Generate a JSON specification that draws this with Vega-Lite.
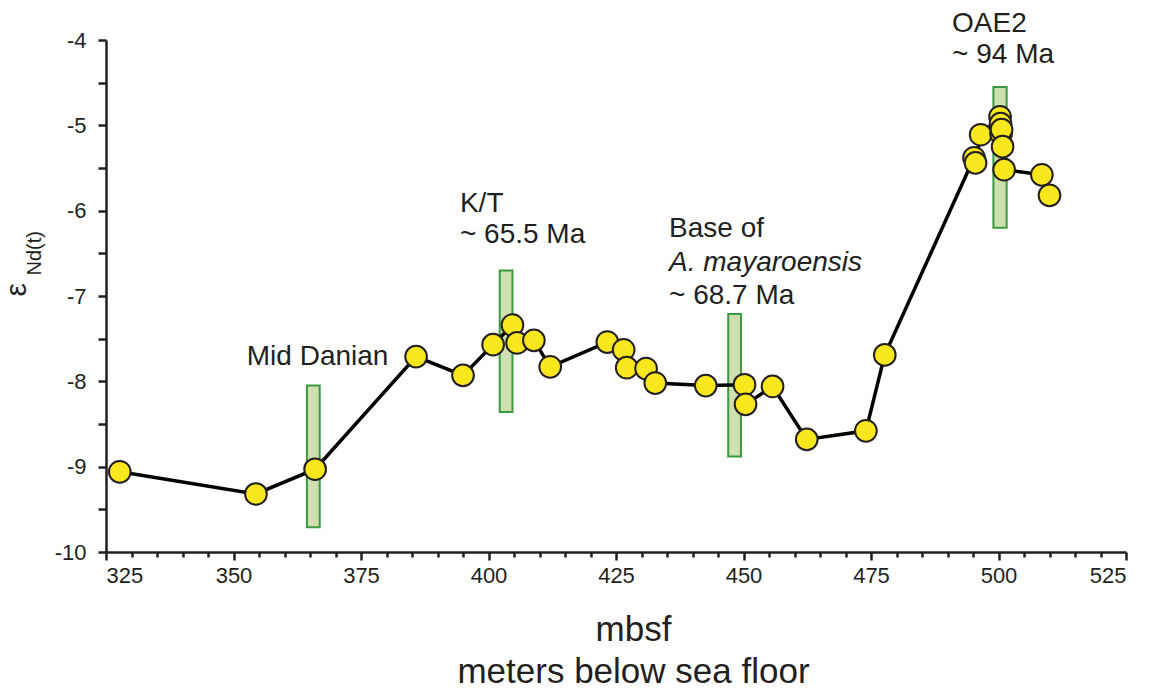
{
  "$schema": "https://vega.github.io/schema/vega-lite/v6.json",
  "width": 1020,
  "height": 512,
  "autosize": "none",
  "padding": {"left": 106, "top": 40, "right": 35, "bottom": 137},
  "background": "white",
  "config": {
    "view": {"stroke": null},
    "font": "Liberation Sans",
    "axis": {"grid": false, "domainColor": "#231f20", "tickColor": "#231f20", "domainWidth": 2.5, "tickWidth": 2.5, "labelColor": "#231f20", "titleColor": "#231f20", "labelFont": "Liberation Sans", "titleFont": "Liberation Sans", "labelFontSize": 22, "titleFontWeight": "normal"}
  },
  "datasets": {
    "pts": [
      {"depth": 327.7, "eps": -9.06},
      {"depth": 354.4, "eps": -9.32},
      {"depth": 366.0, "eps": -9.03},
      {"depth": 385.8, "eps": -7.71},
      {"depth": 395.0, "eps": -7.93},
      {"depth": 400.9, "eps": -7.57},
      {"depth": 404.7, "eps": -7.34},
      {"depth": 405.6, "eps": -7.55},
      {"depth": 408.9, "eps": -7.52},
      {"depth": 412.1, "eps": -7.83},
      {"depth": 423.3, "eps": -7.54},
      {"depth": 426.5, "eps": -7.63},
      {"depth": 427.1, "eps": -7.84},
      {"depth": 430.9, "eps": -7.85},
      {"depth": 432.7, "eps": -8.02},
      {"depth": 442.6, "eps": -8.05},
      {"depth": 450.2, "eps": -8.04},
      {"depth": 450.4, "eps": -8.27},
      {"depth": 455.7, "eps": -8.06},
      {"depth": 462.4, "eps": -8.68},
      {"depth": 474.0, "eps": -8.58},
      {"depth": 477.7, "eps": -7.69},
      {"depth": 495.2, "eps": -5.38},
      {"depth": 495.5, "eps": -5.44},
      {"depth": 496.5, "eps": -5.11},
      {"depth": 500.3, "eps": -4.90},
      {"depth": 500.4, "eps": -4.98},
      {"depth": 500.5, "eps": -5.10},
      {"depth": 500.6, "eps": -5.05},
      {"depth": 500.8, "eps": -5.25},
      {"depth": 501.1, "eps": -5.52},
      {"depth": 508.5, "eps": -5.58},
      {"depth": 510.0, "eps": -5.82}
    ],
    "bars": [
      {"x1": 364.4, "x2": 366.9, "y1": -8.05, "y2": -9.71},
      {"x1": 402.2, "x2": 404.7, "y1": -6.70, "y2": -8.36},
      {"x1": 447.0, "x2": 449.5, "y1": -7.21, "y2": -8.88},
      {"x1": 499.0, "x2": 501.6, "y1": -4.55, "y2": -6.20}
    ],
    "labels": [
      {"x": 352.6, "y": -7.71, "text": "Mid Danian"},
      {"x": 394.4, "y": -5.92, "text": "K/T"},
      {"x": 394.4, "y": -6.29, "text": "~ 65.5 Ma"},
      {"x": 435.4, "y": -6.22, "text": "Base of"},
      {"x": 435.4, "y": -7.00, "text": "~ 68.7 Ma"},
      {"x": 490.9, "y": -3.81, "text": "OAE2"},
      {"x": 490.9, "y": -4.17, "text": "~ 94 Ma"}
    ],
    "italic": [
      {"x": 435.4, "y": -6.61, "text": "A. mayaroensis"}
    ]
  },
  "resolve": {"axis": {"x": "independent", "y": "independent"}},
  "layer": [
    {
      "data": {"name": "bars"},
      "mark": {"type": "rect", "fill": "#cfdfb0", "stroke": "#3a9a3f", "strokeWidth": 2},
      "encoding": {
        "x": {"field": "x1", "type": "quantitative", "scale": {"domain": [325, 525], "nice": false, "zero": false},
              "axis": {"values": [325, 350, 375, 400, 425, 450, 475, 500, 525], "tickSize": 8, "labelPadding": 5, "labelExpr": "'' + datum.value",
                       "title": ["mbsf", "meters below sea floor"], "titleFontSize": 35, "titlePadding": 26, "titleLineHeight": 42, "titleX": 527}},
        "x2": {"field": "x2"},
        "y": {"field": "y1", "type": "quantitative", "scale": {"domain": [-10, -4], "nice": false, "zero": false},
              "axis": {"values": [-10, -9, -8, -7, -6, -5, -4], "tickSize": 8, "labelPadding": 12, "labelExpr": "'' + datum.value",
                       "title": "ε", "titleFontSize": 30, "titleAngle": -90, "titleAlign": "left", "titleBaseline": "alphabetic", "titleX": -81, "titleY": 256}},
        "y2": {"field": "y2"}
      }
    },
    {
      "data": {"name": "pts"},
      "mark": {"type": "line", "color": "#000000", "strokeWidth": 3.5},
      "encoding": {
        "x": {"field": "depth", "type": "quantitative",
              "axis": {"orient": "bottom", "values": [330, 335, 340, 345, 355, 360, 365, 370, 380, 385, 390, 395, 405, 410, 415, 420, 430, 435, 440, 445, 455, 460, 465, 470, 480, 485, 490, 495, 505, 510, 515, 520],
                       "labels": false, "domain": false, "tickSize": 5, "title": null}},
        "y": {"field": "eps", "type": "quantitative",
              "axis": {"orient": "left", "values": [-9.5, -8.5, -7.5, -6.5, -5.5, -4.5], "labels": false, "domain": false, "tickSize": 8,
                       "title": "Nd(t)", "titleFontSize": 20, "titleAngle": -90, "titleAlign": "left", "titleBaseline": "alphabetic", "titleX": -66, "titleY": 235}}
      }
    },
    {
      "data": {"name": "pts"},
      "mark": {"type": "point", "shape": "circle", "filled": true, "fill": "#f8e71c", "stroke": "#231f20", "strokeWidth": 2, "opacity": 1, "size": 470},
      "encoding": {
        "x": {"field": "depth", "type": "quantitative", "axis": null},
        "y": {"field": "eps", "type": "quantitative", "axis": null}
      }
    },
    {
      "data": {"name": "labels"},
      "mark": {"type": "text", "align": "left", "baseline": "middle", "fontSize": 28, "color": "#231f20", "font": "Liberation Sans"},
      "encoding": {
        "x": {"field": "x", "type": "quantitative", "axis": null},
        "y": {"field": "y", "type": "quantitative", "axis": null},
        "text": {"field": "text"}
      }
    },
    {
      "data": {"name": "italic"},
      "mark": {"type": "text", "align": "left", "baseline": "middle", "fontSize": 28, "fontStyle": "italic", "color": "#231f20", "font": "Liberation Sans"},
      "encoding": {
        "x": {"field": "x", "type": "quantitative", "axis": null},
        "y": {"field": "y", "type": "quantitative", "axis": null},
        "text": {"field": "text"}
      }
    }
  ]
}
